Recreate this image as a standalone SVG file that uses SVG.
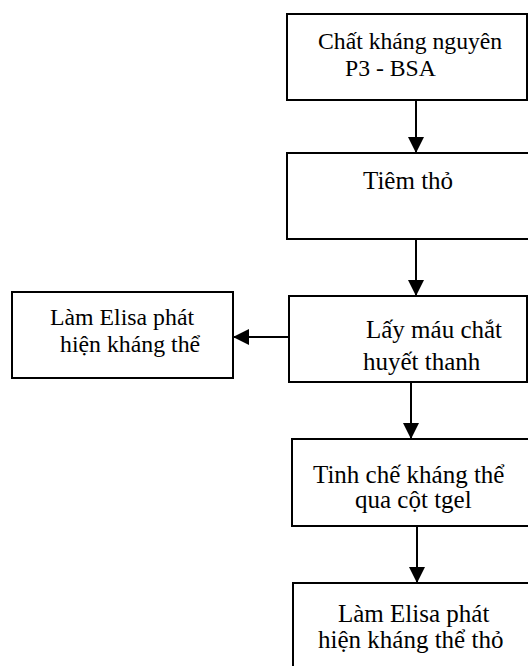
<svg xmlns="http://www.w3.org/2000/svg" width="528" height="666" viewBox="0 0 528 666">
<defs>
<style>
.box{fill:#fff;stroke:#000;stroke-width:2}
.t{font-family:"Liberation Serif","Times New Roman",serif;font-size:25px;fill:#000}
.c{stroke:#000;stroke-width:2;fill:none}
</style>
<marker id="ah" viewBox="0 0 16 16" refX="16" refY="8" markerWidth="16" markerHeight="16" markerUnits="userSpaceOnUse" orient="auto">
<path d="M0,0 L16,8 L0,16 Z" fill="#000"/>
</marker>
</defs>
<rect width="528" height="666" fill="#fff"/>
<g id="n1">
<rect class="box" x="287" y="14" width="240" height="86"/>
<text class="t" x="318" y="49" style="font-size:23.7px">Chất kháng nguyên</text>
<text class="t" x="345" y="76" style="font-size:23.7px">P3 - BSA</text>
</g>
<g id="n2">
<rect class="box" x="287" y="153" width="260" height="86"/>
<text class="t" x="363" y="189">Tiêm thỏ</text>
</g>
<g id="n3">
<rect class="box" x="289" y="296" width="238" height="86"/>
<text class="t" x="366" y="338">Lấy máu chắt</text>
<text class="t" x="363" y="370">huyết thanh</text>
</g>
<g id="n4">
<rect class="box" x="12" y="292" width="221" height="86"/>
<text class="t" x="50" y="325" style="font-size:23.8px">Làm Elisa phát</text>
<text class="t" x="60" y="352" style="font-size:23.8px">hiện kháng thể</text>
</g>
<g id="n5">
<rect class="box" x="292" y="439" width="260" height="87"/>
<text class="t" x="313" y="483">Tinh chế kháng thể</text>
<text class="t" x="355" y="508">qua cột tgel</text>
</g>
<g id="n6">
<rect class="box" x="293" y="583" width="260" height="100"/>
<text class="t" x="338" y="622">Làm Elisa phát</text>
<text class="t" x="318" y="648">hiện kháng thể thỏ</text>
</g>
<g id="connectors">
<line class="c" x1="416" y1="100" x2="416" y2="153" marker-end="url(#ah)"/>
<line class="c" x1="416" y1="239" x2="416" y2="296" marker-end="url(#ah)"/>
<line class="c" x1="289" y1="337" x2="233" y2="337" marker-end="url(#ah)"/>
<line class="c" x1="411" y1="382" x2="411" y2="439" marker-end="url(#ah)"/>
<line class="c" x1="417" y1="526" x2="417" y2="583" marker-end="url(#ah)"/>
</g>
</svg>
